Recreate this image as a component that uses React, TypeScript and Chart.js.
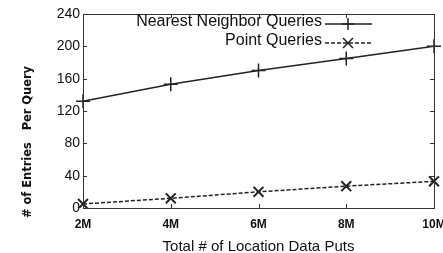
import React, { useEffect, useRef } from "react";
import { Chart, registerables } from "chart.js";

Chart.register(...registerables);

const categories = ["2M", "4M", "6M", "8M", "10M"];
const nearestNeighbor = [132, 153, 170, 185, 200];
const pointQueries = [5, 12, 20, 27, 33];
const yTicks = [0, 40, 80, 120, 160, 200, 240];
const seriesNames = ["Nearest Neighbor Queries", "Point Queries"];
const xTitle = "Total # of Location Data Puts";
const yTitle = "# of Entries   Per Query";

export default function App() {
  const ref = useRef<HTMLCanvasElement | null>(null);
  useEffect(() => {
    if (!ref.current) return;
    const decor = {
      id: "decor",
      afterDraw(chart: any) {
        const ctx = chart.ctx;
        const a = chart.chartArea;
        ctx.save();
        ctx.strokeStyle = "#333";
        ctx.lineWidth = 1;
        ctx.strokeRect(a.left + 0.5, a.top + 0.5, a.right - a.left, a.bottom - a.top);
        const ys = chart.scales.y;
        yTicks.forEach((v) => {
          const py = Math.round(ys.getPixelForValue(v)) + 0.5;
          ctx.beginPath();
          ctx.moveTo(a.left, py);
          ctx.lineTo(a.left + 4, py);
          ctx.moveTo(a.right, py);
          ctx.lineTo(a.right - 4, py);
          ctx.stroke();
        });
        const xs = chart.scales.x;
        categories.forEach((_, i) => {
          const px = Math.round(xs.getPixelForValue(i)) + 0.5;
          ctx.beginPath();
          ctx.moveTo(px, a.bottom);
          ctx.lineTo(px, a.bottom - 4);
          ctx.moveTo(px, a.top);
          ctx.lineTo(px, a.top + 4);
          ctx.stroke();
        });
        ctx.fillStyle = "#111";
        ctx.textAlign = "right";
        ctx.textBaseline = "middle";
        const tx = 322;
        const rows = [22, 41];
        seriesNames.forEach((n, i) => {
          ctx.font = "16px 'Liberation Sans', Arial, sans-serif";
          ctx.fillText(n, tx, rows[i]);
          ctx.beginPath();
          ctx.strokeStyle = "#222";
          ctx.lineWidth = 1.5;
          ctx.setLineDash(i === 1 ? [4, 2] : []);
          ctx.moveTo(tx + 3, rows[i] + 2);
          ctx.lineTo(372, rows[i] + 2);
          ctx.stroke();
          ctx.setLineDash([]);
          const mx = 348, my = rows[i] + 2;
          ctx.beginPath();
          if (i === 0) {
            ctx.moveTo(mx, my - 6);
            ctx.lineTo(mx, my + 6);
            ctx.moveTo(mx - 6, my);
            ctx.lineTo(mx + 6, my);
          } else {
            ctx.moveTo(mx - 5, my - 5);
            ctx.lineTo(mx + 5, my + 5);
            ctx.moveTo(mx - 5, my + 5);
            ctx.lineTo(mx + 5, my - 5);
          }
          ctx.stroke();
        });
        ctx.translate(28, 142);
        ctx.rotate(-Math.PI / 2);
        ctx.textAlign = "center";
        ctx.font = "bold 12px 'DejaVu Sans Condensed', 'Liberation Sans', sans-serif";
        const w = ctx.measureText(yTitle).width;
        ctx.scale(152 / w, 1);
        ctx.fillStyle = "#111";
        ctx.fillText(yTitle, 0, 0);
        ctx.restore();
      },
    };
    const chart = new Chart(ref.current, {
      type: "line",
      data: {
        labels: categories,
        datasets: [
          {
            label: seriesNames[0],
            data: nearestNeighbor,
            borderColor: "#222",
            borderWidth: 1.5,
            pointStyle: "cross",
            pointRadius: 7,
            pointBorderWidth: 1.5,
            pointBorderColor: "#222",
            fill: false,
            tension: 0,
          },
          {
            label: seriesNames[1],
            data: pointQueries,
            borderColor: "#222",
            borderWidth: 1.5,
            borderDash: [4, 2],
            pointStyle: "crossRot",
            pointRadius: 7,
            pointBorderWidth: 2,
            pointBorderColor: "#222",
            fill: false,
            tension: 0,
          },
        ],
      },
      options: {
        animation: false,
        responsive: false,
        layout: { padding: { left: 0, right: 3, top: 14, bottom: 0 } },
        plugins: { legend: { display: false }, tooltip: { enabled: false } },
        scales: {
          x: {
            offset: false,
            grid: { display: false, drawTicks: false },
            border: { display: false },
            ticks: {
              color: "#111",
              font: { family: "'Liberation Sans', Arial, sans-serif", size: 12, weight: "bold" },
              padding: 9,
              maxRotation: 0,
              autoSkip: false,
            },
            title: {
              display: true,
              text: xTitle,
              color: "#111",
              font: { family: "'Liberation Sans', Arial, sans-serif", size: 15 },
              padding: { top: 3, bottom: -3 },
            },
            afterFit: (s: any) => {
              s.height = 45;
              s.paddingRight = 0;
              s.paddingLeft = 0;
            },
          },
          y: {
            min: 0,
            max: 240,
            grid: { display: false, drawTicks: false },
            border: { display: false },
            afterBuildTicks: (s: any) => {
              s.ticks = yTicks.map((v) => ({ value: v }));
            },
            ticks: {
              color: "#111",
              font: { family: "'Liberation Sans', Arial, sans-serif", size: 14 },
              padding: 3,
            },
            afterFit: (s: any) => {
              s.width = 83;
            },
          },
        },
      },
      plugins: [decor],
    });
    return () => chart.destroy();
  }, []);
  return (
    <div style={{ position: "fixed", left: 0, top: 0, width: 443, height: 253, background: "#fff" }}>
      <canvas ref={ref} width={443} height={253} />
    </div>
  );
}
